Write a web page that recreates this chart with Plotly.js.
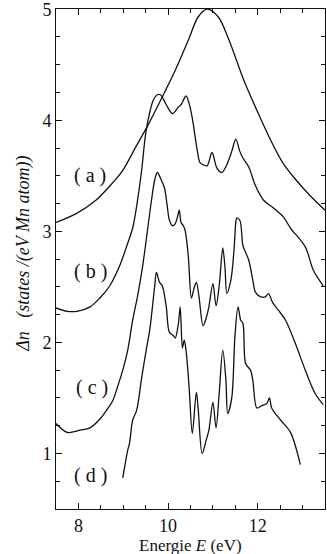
<!DOCTYPE html>
<html>
<head>
<meta charset="utf-8">
<script src="https://cdn.plot.ly/plotly-3.0.1.min.js"></script>
<style>
  html, body { margin: 0; padding: 0; background: #fff; }
  #chart { width: 327px; height: 554px; }
</style>
</head>
<body>
<div id="chart"></div>
<script>
// curve (a): smooth broad peak
var xA = [7.5, 7.95, 8.39, 8.68, 8.99, 9.28, 9.57, 9.87, 10.16, 10.45, 10.67, 10.87, 11.12, 11.36, 11.69, 11.98, 12.29, 12.57, 12.86, 13.17, 13.5];
var yA = [3.08, 3.16, 3.28, 3.40, 3.55, 3.76, 3.97, 4.21, 4.45, 4.72, 4.93, 5.0, 4.93, 4.72, 4.36, 4.09, 3.82, 3.61, 3.46, 3.32, 3.19];

// curve (b)
var xB = [7.5, 7.75, 7.97, 8.26, 8.48, 8.70, 8.92, 9.08, 9.21, 9.30, 9.41, 9.50, 9.59, 9.67, 9.76, 9.83, 9.96, 10.10, 10.23, 10.29, 10.34, 10.40, 10.47, 10.54, 10.65, 10.71, 10.78, 10.87, 10.98, 11.09, 11.20, 11.31, 11.42, 11.51, 11.60, 11.67, 11.80, 11.95, 12.13, 12.35, 12.57, 12.73, 13.06, 13.24, 13.46];
var yB = [2.31, 2.28, 2.28, 2.32, 2.40, 2.51, 2.69, 2.87, 3.03, 3.23, 3.55, 3.88, 4.07, 4.18, 4.23, 4.23, 4.14, 4.06, 4.12, 4.14, 4.18, 4.22, 4.15, 4.02, 3.73, 3.62, 3.60, 3.59, 3.71, 3.57, 3.53, 3.60, 3.72, 3.83, 3.72, 3.66, 3.58, 3.41, 3.28, 3.21, 3.13, 3.03, 2.86, 2.65, 2.51];

// curve (c)
var xC = [7.5, 7.75, 8.04, 8.26, 8.48, 8.63, 8.77, 8.88, 8.99, 9.10, 9.21, 9.32, 9.43, 9.63, 9.70, 9.76, 9.85, 9.92, 9.98, 10.03, 10.10, 10.16, 10.21, 10.25, 10.29, 10.34, 10.38, 10.45, 10.52, 10.58, 10.63, 10.69, 10.78, 10.85, 10.91, 11.00, 11.07, 11.14, 11.22, 11.27, 11.31, 11.40, 11.47, 11.51, 11.53, 11.60, 11.67, 11.73, 11.80, 11.89, 11.95, 12.07, 12.17, 12.24, 12.33, 12.46, 12.62, 12.84, 13.06, 13.28, 13.46];
var yC = [1.27, 1.19, 1.21, 1.23, 1.31, 1.39, 1.48, 1.61, 1.75, 1.93, 2.20, 2.42, 2.68, 3.28, 3.46, 3.53, 3.46, 3.39, 3.23, 3.10, 3.05, 3.07, 3.13, 3.19, 3.08, 3.05, 3.01, 2.78, 2.40, 2.49, 2.54, 2.41, 2.15, 2.22, 2.32, 2.53, 2.33, 2.51, 2.85, 2.67, 2.44, 2.56, 2.83, 3.08, 3.12, 3.10, 2.87, 2.81, 2.74, 2.56, 2.45, 2.41, 2.41, 2.44, 2.36, 2.29, 2.20, 1.99, 1.75, 1.54, 1.44];

// curve (d)
var xD = [8.99, 9.10, 9.14, 9.21, 9.30, 9.41, 9.52, 9.59, 9.70, 9.74, 9.81, 9.87, 9.96, 10.03, 10.12, 10.16, 10.23, 10.27, 10.32, 10.36, 10.40, 10.47, 10.54, 10.63, 10.67, 10.76, 10.85, 10.91, 11.00, 11.07, 11.14, 11.22, 11.29, 11.33, 11.42, 11.49, 11.56, 11.62, 11.67, 11.73, 11.84, 11.89, 11.98, 12.09, 12.20, 12.26, 12.31, 12.51, 12.73, 12.95];
var yD = [0.78, 1.03, 1.09, 1.30, 1.39, 1.68, 1.95, 2.11, 2.50, 2.63, 2.54, 2.51, 2.32, 2.09, 2.06, 2.04, 2.17, 2.32, 1.95, 2.02, 1.93, 1.59, 1.18, 1.55, 1.41, 1.00, 1.12, 1.21, 1.46, 1.23, 1.54, 1.93, 1.66, 1.36, 1.50, 2.05, 2.32, 2.20, 2.17, 1.81, 1.75, 1.66, 1.41, 1.43, 1.45, 1.50, 1.41, 1.30, 1.19, 0.90];

// curve labels
var labelText = ['( a )', '( b )', '( c )', '( d )'];
var labelX = [8.26, 8.26, 8.3, 8.28];
var labelY = [3.50, 2.64, 1.59, 0.80];

var serif = 'Liberation Serif, Times New Roman, Times, serif';

function curve(x, y) {
    return { x: x, y: y, mode: 'lines', line: { color: '#111', width: 1.3, shape: 'spline', smoothing: 0.9 }, hoverinfo: 'skip' };
}

var traces = [curve(xA, yA), curve(xB, yB), curve(xC, yC), curve(xD, yD)];

var annotations = labelText.map(function (t, i) {
    return { x: labelX[i], y: labelY[i], xref: 'x', yref: 'y', text: t, showarrow: false,
             font: { family: serif, size: 20, color: '#111' } };
});
// axis titles
annotations.push({
    xref: 'paper', yref: 'paper', x: -0.17, y: 0.51, textangle: -90, showarrow: false,
    text: '<i>Δn   (states /(eV Mn atom))</i>',
    font: { family: serif, size: 18, color: '#111' }
});
annotations.push({
    xref: 'paper', yref: 'paper', x: 0.5, y: -0.073, yanchor: 'middle', showarrow: false,
    text: 'Energie <i>E</i> (eV)',
    font: { family: serif, size: 17, color: '#111' }
});

var axisCommon = {
    showline: true, linecolor: '#111', linewidth: 1, mirror: 'ticks',
    ticks: 'inside', ticklen: 6, tickcolor: '#111', showgrid: false, zeroline: false,
    ticklabeloverflow: 'allow'
};

var layout = {
    width: 327, height: 554,
    margin: { l: 56, r: 2, t: 9, b: 45 },
    paper_bgcolor: '#fff', plot_bgcolor: '#fff',
    showlegend: false,
    xaxis: Object.assign({}, axisCommon, {
        range: [7.5, 13.5], tick0: 0, dtick: 2,
        tickfont: { family: serif, size: 18, color: '#111' },
        minor: { dtick: 0.5, ticklen: 4, ticks: 'inside', tickcolor: '#111' }
    }),
    yaxis: Object.assign({}, axisCommon, {
        range: [0.5, 5.002], tick0: 0, dtick: 1,
        tickfont: { family: serif, size: 18, color: '#111' },
        minor: { dtick: 0.25, ticklen: 4, ticks: 'inside', tickcolor: '#111' }
    }),
    annotations: annotations
};

Plotly.newPlot('chart', traces, layout, { displayModeBar: false, staticPlot: true });
</script>
</body>
</html>
